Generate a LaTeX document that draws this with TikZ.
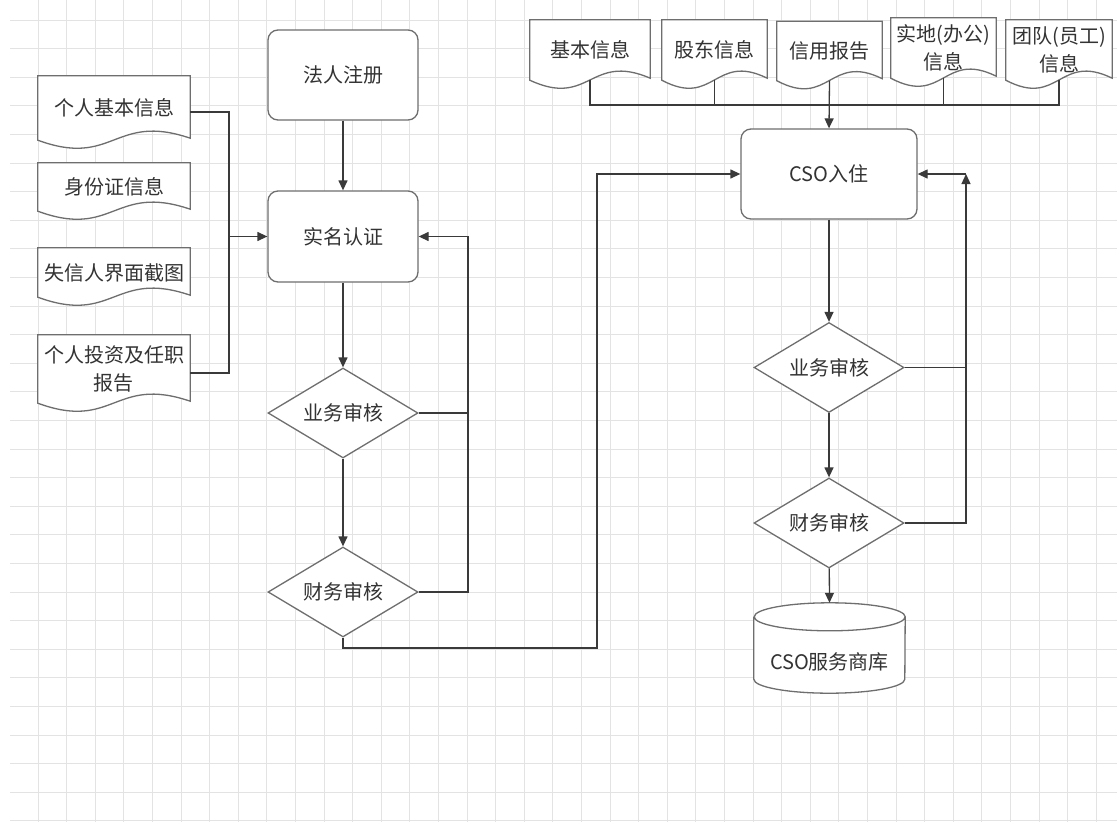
\documentclass[tikz,border=0pt]{standalone}
\usepackage{fontspec}
\setmainfont{Noto Sans CJK SC}
\usetikzlibrary{shapes.geometric,arrows.meta,calc}

\definecolor{shapegray}{HTML}{6E6E6E}
\definecolor{linkgray}{HTML}{3A3A3A}
\definecolor{inkgray}{HTML}{333333}
\definecolor{gridgray}{HTML}{E3E3E3}
\newcommand{\labelfont}{\fontsize{20}{28}\selectfont}

\pgfdeclarelayer{gridlayer}
\pgfdeclarelayer{doclayer}
\pgfsetlayers{gridlayer,doclayer,main}

% wavy document outline round a node
\newcommand{\docoutline}[1]{%
  \filldraw[doc line] (#1.south west) -- (#1.north west) -- (#1.north east)
    -- ([yshift=2pt]#1.south east)
    .. controls ($(#1.south)+(0,-28)$) and ($(#1.south)+(0,28)$) .. (#1.south west) -- cycle;}

\begin{document}
\begin{tikzpicture}[x=1pt,y=-1pt,>={Triangle[length=10pt,width=9pt]},
  box/.style={draw=shapegray, line width=1.3pt, fill=white, text=inkgray, font=\labelfont},
  flowbox/.style={box, rounded corners=10pt, minimum width=150pt, minimum height=90pt},
  check/.style={box, diamond, aspect=1.667, minimum width=150pt, minimum height=90pt, inner sep=0pt},
  docbox/.style 2 args={inner sep=0pt, text=inkgray, font=\labelfont, align=center,
    minimum width=#1pt, minimum height=#2pt},
  doc line/.style={draw=shapegray, line width=1.3pt, fill=white},
  link/.style={draw=linkgray, line width=1.3pt}]

  \useasboundingbox (0,0) rectangle (1117,825);
  \begin{pgfonlayer}{gridlayer}
    \fill[white] (0,0) rectangle (1117,825);
    \foreach \k in {0,...,28} \draw[gridgray, line width=1pt] (10,20+28.6*\k) -- (1117,20+28.6*\k);
    \foreach \k in {0,...,37} \draw[gridgray, line width=1pt] (38+28.6*\k,0) -- (38+28.6*\k,822);
  \end{pgfonlayer}

  % inputs on the left
  \node[docbox={152}{64}] (pinfo) at (114,108) {个人基本信息};
  \node[docbox={152}{48}] (idinfo) at (114,187) {身份证信息};
  \node[docbox={152}{49}] (blacklist) at (114,272.5) {失信人界面截图};
  \node[docbox={152}{68}] (invest) at (114,369) {个人投资及任职\\报告};

  % inputs on top
  \node[docbox={120}{60}] (base) at (590,50) {基本信息};
  \node[docbox={105}{60}] (holder) at (714.5,50) {股东信息};
  \node[docbox={105}{59}] (credit) at (829.5,51) {信用报告};
  \node[docbox={105}{60}] (site) at (943.5,48) {实地(办公)\\信息};
  \node[docbox={106}{60}] (team) at (1059,50) {团队(员工)\\信息};

  \begin{pgfonlayer}{doclayer}
    \foreach \d in {pinfo,idinfo,blacklist,invest,base,holder,credit,site,team}
      \docoutline{\d};
  \end{pgfonlayer}

  % left flow
  \node[flowbox] (reg) at (343,75) {法人注册};
  \node[flowbox, minimum height=91pt] (realname) at (343,236.5) {实名认证};
  \node[check] (biz1) at (343,413) {业务审核};
  \node[check] (fin1) at (343,592) {财务审核};

  % right flow
  \node[flowbox, minimum width=176pt] (cso) at (829,174) {CSO入住};
  \node[check] (biz2) at (829,367.5) {业务审核};
  \node[check] (fin2) at (829,523) {财务审核};
  \node[minimum width=151pt, minimum height=90pt, inner sep=0pt] (db) at (829.5,648) {};
  \draw[doc line] ([yshift=-14pt]db.north west) -- ([yshift=14pt]db.south west)
    arc[start angle=180, end angle=360, x radius=75.5pt, y radius=14pt]
    -- ([yshift=-14pt]db.north east)
    arc[start angle=0, end angle=180, x radius=75.5pt, y radius=14pt]
    arc[start angle=180, end angle=360, x radius=75.5pt, y radius=14pt];
  \node[text=inkgray, font=\labelfont] (dblabel) at ([yshift=-14pt]db.center) {CSO服务商库};

  % connectors, left
  \coordinate (lbus) at (229,236.5);
  \draw[link] ([yshift=-4pt]pinfo.east) -| (lbus) |- ([yshift=-4pt]invest.east);
  \draw[link,->] (lbus) -- (realname.west);
  \draw[link,->] (reg) -- (realname);
  \draw[link,->] (realname) -- (biz1);
  \draw[link,->] (biz1) -- (fin1);
  \coordinate (lback) at (468,236.5);
  \draw[link] (biz1.east) -- (biz1.east -| lback);
  \draw[link,->] (fin1.east) -| (lback) -- (realname.east);
  \coordinate (jump) at (597,648);
  \draw[link,->] (fin1.south) |- (jump) |- (cso.west);

  % connectors, right
  \coordinate (bus) at (829.5,105);
  \draw[link] (base.south) |- (bus) -| (team.south);
  \draw[link] (holder.south) -- (holder.south |- bus);
  \draw[link] (site.south) -- (site.south |- bus);
  \draw[link,->] (credit.south) -- (cso.north);
  \draw[link,->] (cso) -- (biz2);
  \draw[link,->] (biz2) -- (fin2);
  \draw[link,->] (fin2) -- (db.north);
  \coordinate (rback) at (966,174);
  \draw[link] (biz2.east) -- (biz2.east -| rback);
  \draw[link,->] (fin2.east) -| (rback);
  \draw[link,->] (rback) -- (cso.east);
\end{tikzpicture}
\end{document}
